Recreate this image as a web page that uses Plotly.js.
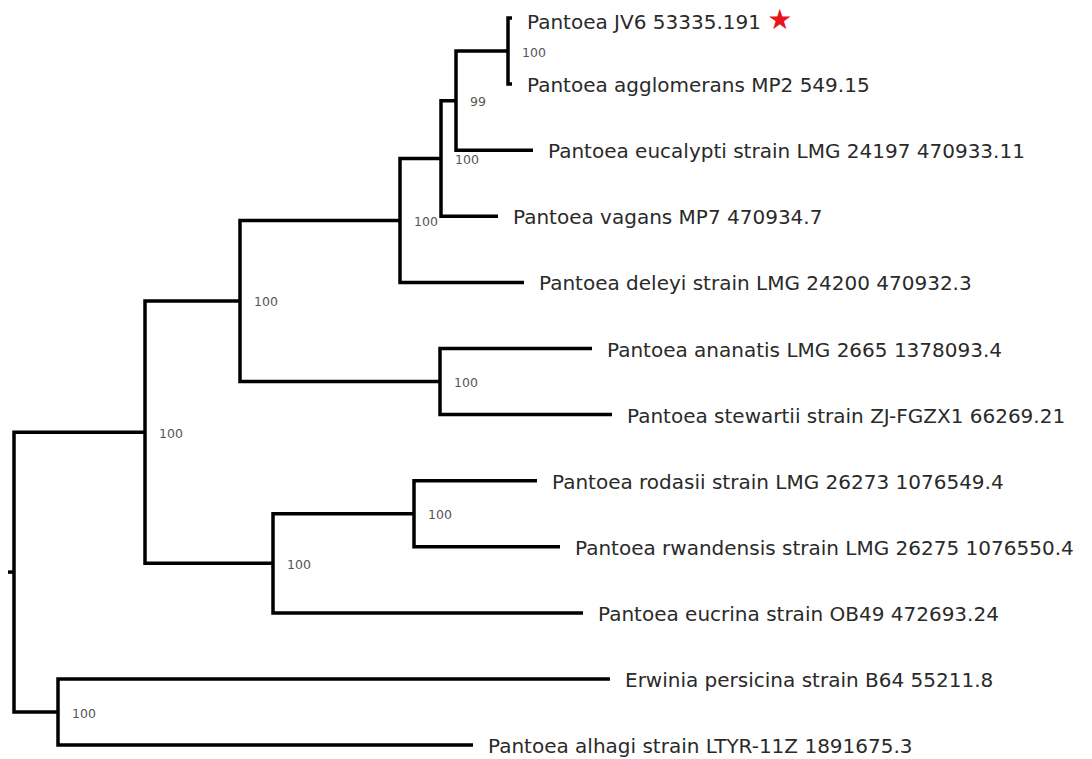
<!DOCTYPE html>
<html>
<head>
<meta charset="utf-8">
<script src="https://cdn.plot.ly/plotly-3.0.1.min.js"></script>
<style>html,body{margin:0;padding:0;background:#fff;}#chart{width:1092px;height:759px;}</style>
</head>
<body>
<div id="chart"></div>
<script>
// ---- data ----
const leafIds = ['jv6','aggl','euca','vaga','dele','anan','stew','roda','rwan','eucr','pers','alha'];
const leafLabels = [
  'Pantoea JV6 53335.191',
  'Pantoea agglomerans MP2 549.15',
  'Pantoea eucalypti strain LMG 24197 470933.11',
  'Pantoea vagans MP7 470934.7',
  'Pantoea deleyi strain LMG 24200 470932.3',
  'Pantoea ananatis LMG 2665 1378093.4',
  'Pantoea stewartii strain ZJ-FGZX1 66269.21',
  'Pantoea rodasii strain LMG 26273 1076549.4',
  'Pantoea rwandensis strain LMG 26275 1076550.4',
  'Pantoea eucrina strain OB49 472693.24',
  'Erwinia persicina strain B64 55211.8',
  'Pantoea alhagi strain LTYR-11Z 1891675.3'
];
const leafLengths = [4, 4, 77, 57, 124, 152, 172, 123, 146, 310, 552, 415];
const highlighted = ['jv6'];
const cladeIds = ['A','B','C','D','F','E','I','H','G','J','root'];
const cladeKids = [
  ['jv6','aggl'], ['A','euca'], ['B','vaga'], ['C','dele'], ['anan','stew'],
  ['D','F'], ['roda','rwan'], ['I','eucr'], ['E','H'], ['pers','alha'], ['G','J']
];
const cladeLengths = [52, 15, 41, 160, 200, 95, 141, 128, 131, 44, 6];
const cladeSupport = [100, 99, 100, 100, 100, 100, 100, 100, 100, 100, null];

// ---- build tree ----
const nodes = {};
leafIds.forEach((id, i) => nodes[id] = {id, len: leafLengths[i], kids: [], y: i, label: leafLabels[i]});
cladeIds.forEach((id, i) => nodes[id] = {id, len: cladeLengths[i], kids: cladeKids[i], support: cladeSupport[i]});
function setY(n) {
  if (!n.kids.length) return n.y;
  const ys = n.kids.map(k => setY(nodes[k]));
  n.y = (Math.min(...ys) + Math.max(...ys)) / 2;
  return n.y;
}
function setX(n, x) {
  n.x = x;
  n.kids.forEach(k => setX(nodes[k], x + nodes[k].len));
}
const root = nodes['root'];
setY(root);
setX(root, 0);

const lx = [], ly = [];
// root stub
lx.push(root.x - root.len, root.x, null); ly.push(root.y, root.y, null);
cladeIds.forEach(id => {
  const n = nodes[id];
  const a = nodes[n.kids[0]], b = nodes[n.kids[1]];
  lx.push(a.x, n.x, n.x, b.x, null);
  ly.push(a.y, a.y, b.y, b.y, null);
});

const annotations = [];
leafIds.forEach(id => {
  const n = nodes[id];
  let txt = n.label;
  if (highlighted.includes(id)) txt += ' <span style="color:#e8141c;font-size:28px">★</span>';
  annotations.push({
    x: n.x, y: n.y, xref: 'x', yref: 'y', text: txt, showarrow: false,
    xanchor: 'left', yanchor: 'middle', xshift: 13, yshift: -1,
    font: {family: 'DejaVu Sans, Verdana, sans-serif', size: 20, color: '#2a2a2a'}
  });
});
cladeIds.forEach(id => {
  const n = nodes[id];
  if (n.support == null) return;
  annotations.push({
    x: n.x, y: n.y, xref: 'x', yref: 'y', text: String(n.support), showarrow: false,
    xanchor: 'left', yanchor: 'middle', xshift: 12, yshift: -1,
    font: {family: 'DejaVu Sans, Verdana, sans-serif', size: 12.5, color: '#555'}
  });
});

const trace = {
  x: lx, y: ly, mode: 'lines', type: 'scatter', hoverinfo: 'skip',
  line: {color: '#000', width: 3.5}, connectgaps: false, showlegend: false
};
const layout = {
  width: 1092, height: 759,
  margin: {l: 0, r: 0, t: 0, b: 0},
  paper_bgcolor: '#fff', plot_bgcolor: '#fff',
  xaxis: {range: [-14, 1078], visible: false, fixedrange: true},
  yaxis: {range: [(759 - 18) / 66.1, -18 / 66.1], visible: false, fixedrange: true},
  annotations, showlegend: false
};
Plotly.newPlot('chart', [trace], layout, {displayModeBar: false, staticPlot: true});
</script>
</body>
</html>
